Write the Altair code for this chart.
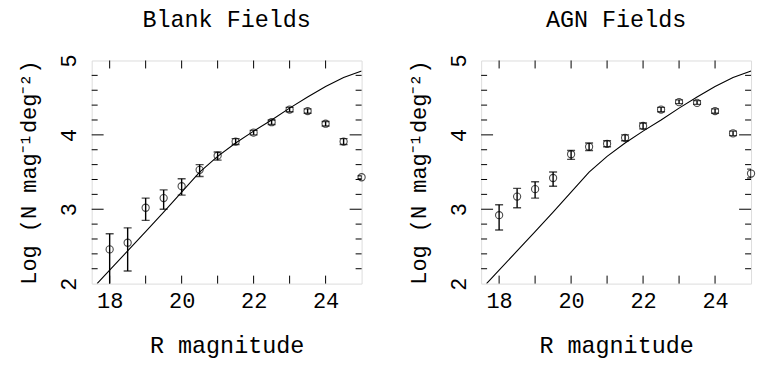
import altair as alt
import pandas as pd

# ---------------- data ----------------
mag = [18.0, 18.5, 19.0, 19.5, 20.0, 20.5, 21.0, 21.5, 22.0, 22.5, 23.0, 23.5, 24.0, 24.5, 25.0]

blank_logn = [2.46, 2.55, 3.02, 3.15, 3.31, 3.53, 3.72, 3.91, 4.03, 4.17, 4.34, 4.32, 4.15, 3.91, 3.43]
blank_lo   = [1.90, 2.17, 2.85, 3.00, 3.19, 3.44, 3.66, 3.87, 4.00, 4.14, 4.31, 4.29, 4.12, 3.87, 3.41]
blank_hi   = [2.67, 2.75, 3.15, 3.26, 3.41, 3.60, 3.77, 3.95, 4.06, 4.20, 4.37, 4.35, 4.18, 3.95, 3.45]

agn_logn = [2.92, 3.17, 3.27, 3.42, 3.74, 3.84, 3.88, 3.96, 4.12, 4.34, 4.44, 4.43, 4.32, 4.02, 3.48]
agn_lo   = [2.72, 3.02, 3.15, 3.31, 3.67, 3.79, 3.84, 3.92, 4.08, 4.31, 4.42, 4.41, 4.29, 3.99, 3.42]
agn_hi   = [3.06, 3.28, 3.37, 3.50, 3.79, 3.89, 3.92, 4.00, 4.16, 4.37, 4.47, 4.46, 4.35, 4.05, 3.54]

model_mag  = [17.65, 18.0, 18.5, 19.0, 19.5, 20.0, 20.5, 21.0, 21.5, 22.0, 22.5, 23.0, 23.5, 24.0, 24.5, 25.0]
model_logn = [2.00, 2.18, 2.44, 2.70, 2.96, 3.23, 3.50, 3.71, 3.89, 4.05, 4.20, 4.36, 4.51, 4.65, 4.77, 4.86]

x_labels = [18, 20, 22, 24]
y_labels = [2, 3, 4, 5]
x_ticks = [18, 19, 20, 21, 22, 23, 24]
y_major_ticks = [3, 4]
y_minor_ticks = [2.2, 2.4, 2.6, 2.8, 3.2, 3.4, 3.6, 3.8, 4.2, 4.4, 4.6, 4.8]

panel_titles = ["Blank Fields", "AGN Fields"]
x_title = "R magnitude"
y_title = "Log (N mag\u207b\u00b9deg\u207b\u00b2)"

# ---------------- styling ----------------
FONT = "Liberation Mono"
W, H = 271, 224
XS = alt.Scale(domain=[17.5, 25], nice=False, zero=False)
YS = alt.Scale(domain=[2, 5], nice=False, zero=False)

XAXIS = alt.Axis(values=x_labels, title=x_title, ticks=False, tickSize=0, domain=False, grid=False,
                 labelFont=FONT, labelFontSize=22, labelColor="black", labelPadding=7,
                 titleFont=FONT, titleFontSize=23.5, titleFontWeight="normal", titleColor="black",
                 titlePadding=22, labelFlush=False)
YAXIS = alt.Axis(values=y_labels, title=y_title, ticks=False, tickSize=0, domain=False, grid=False,
                 labelFont=FONT, labelFontSize=22, labelColor="black", labelPadding=11,
                 labelAngle=-90, labelAlign="center", labelBaseline="bottom", labelFlush=False,
                 titleFont=FONT, titleFontSize=22, titleFontWeight="normal", titleColor="black",
                 titlePadding=17)


def xenc(field):
    return alt.X(f"{field}:Q", scale=XS, axis=XAXIS)


def yenc(field):
    return alt.Y(f"{field}:Q", scale=YS, axis=YAXIS)


def panel(title, logn, lo, hi):
    pts = pd.DataFrame({"mag": mag, "logn": logn, "lo": lo, "hi": hi})
    model = pd.DataFrame({"mag": model_mag, "logn": model_logn})
    xt = pd.DataFrame({"v": x_ticks})
    ytmaj = pd.DataFrame({"v": y_major_ticks})
    ytmin = pd.DataFrame({"v": y_minor_ticks})

    layers = []
    # inward ticks on all four sides
    layers.append(alt.Chart(xt).mark_rule(color="black", strokeWidth=1).encode(
        x=xenc("v"), y=alt.value(H - 8), y2=alt.value(H)))
    layers.append(alt.Chart(xt).mark_rule(color="black", strokeWidth=1).encode(
        x=xenc("v"), y=alt.value(0), y2=alt.value(8)))
    for df, L in ((ytmaj, 12), (ytmin, 6)):
        layers.append(alt.Chart(df).mark_rule(color="black", strokeWidth=1).encode(
            y=yenc("v"), x=alt.value(0), x2=alt.value(L)))
        layers.append(alt.Chart(df).mark_rule(color="black", strokeWidth=1).encode(
            y=yenc("v"), x=alt.value(W - L), x2=alt.value(W)))

    # model curve
    layers.append(alt.Chart(model).mark_line(color="black", strokeWidth=1.1, clip=True).encode(
        x=xenc("mag"), y=yenc("logn")))
    # error bars
    layers.append(alt.Chart(pts).mark_rule(color="black", strokeWidth=1.4, clip=True).encode(
        x=xenc("mag"), y=yenc("lo"), y2="hi:Q"))
    layers.append(alt.Chart(pts).mark_tick(color="black", thickness=1.4, size=8, orient="horizontal", clip=True).encode(
        x=xenc("mag"), y=yenc("lo")))
    layers.append(alt.Chart(pts).mark_tick(color="black", thickness=1.4, size=8, orient="horizontal", clip=True).encode(
        x=xenc("mag"), y=yenc("hi")))
    # data points
    layers.append(alt.Chart(pts).mark_point(shape="circle", filled=False, color="black", size=52, strokeWidth=1.1).encode(
        x=xenc("mag"), y=yenc("logn")))

    return alt.layer(*layers).properties(
        width=W, height=H,
        title=alt.TitleParams(title, font=FONT, fontSize=23.5, fontWeight="normal", color="black",
                              frame="group", anchor="middle", offset=23),
    )


left = panel(panel_titles[0], blank_logn, blank_lo, blank_hi)
right = panel(panel_titles[1], agn_logn, agn_lo, agn_hi)

chart = alt.hconcat(left, right, spacing=38).properties(
    padding={"left": 9, "top": -2, "right": 5, "bottom": 4}
).configure_view(stroke="black", strokeWidth=1.2).configure(background="white")

chart.save("out.html", embed_options={"renderer": "svg", "actions": False})
